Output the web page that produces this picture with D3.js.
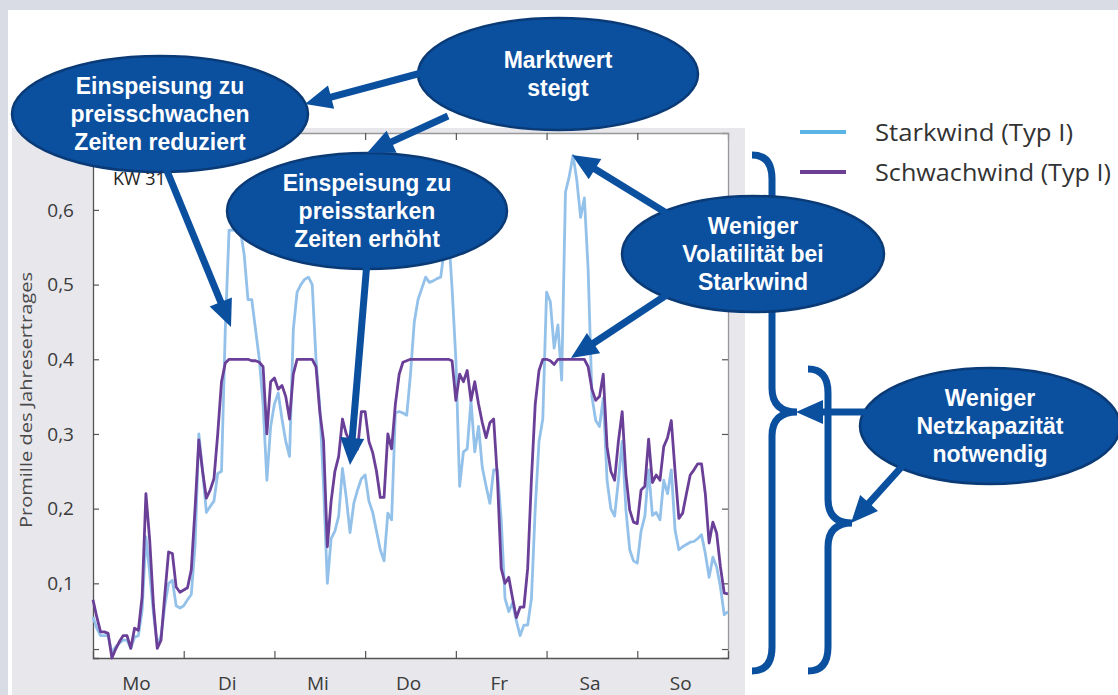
<!DOCTYPE html>
<html>
<head>
<meta charset="utf-8">
<script src="https://cdn.jsdelivr.net/npm/d3@7"></script>
<style>
  html, body { margin: 0; padding: 0; background: #fff; }
  svg { display: block; }
</style>
</head>
<body>
<svg id="chart" width="1118" height="695"></svg>
<script>
'use strict';

// stundenwerte, Mo 0 Uhr bis So 24 Uhr (169 punkte)
var days = ['Mo', 'Di', 'Mi', 'Do', 'Fr', 'Sa', 'So'];
var yTicks = [0.1, 0.2, 0.3, 0.4, 0.5, 0.6];
var seriesNames = ['Starkwind (Typ I)', 'Schwachwind (Typ I)'];
var weekLabel = 'KW 31';
var yTitle = 'Promille des Jahresertrages';

var starkwind = [
  0.055, 0.04, 0.03, 0.03, 0.03, 0.007, 0.015, 0.02, 0.024, 0.024,
  0.013, 0.028, 0.03, 0.064, 0.162, 0.114, 0.06, 0.017, 0.03, 0.07,
  0.10, 0.104, 0.07, 0.067, 0.07, 0.078, 0.085, 0.15, 0.30, 0.25,
  0.195, 0.203, 0.21, 0.247, 0.25, 0.44, 0.573, 0.573, 0.573, 0.573,
  0.54, 0.48, 0.48, 0.44, 0.40, 0.34, 0.238, 0.31, 0.34, 0.355,
  0.32, 0.29, 0.27, 0.44, 0.49, 0.50, 0.507, 0.51, 0.50, 0.40,
  0.336, 0.23, 0.10, 0.16, 0.17, 0.19, 0.254, 0.215, 0.168, 0.207,
  0.225, 0.24, 0.245, 0.21, 0.195, 0.17, 0.145, 0.13, 0.194, 0.185,
  0.328, 0.33, 0.328, 0.325, 0.38, 0.45, 0.48, 0.495, 0.51, 0.503,
  0.505, 0.508, 0.51, 0.55, 0.575, 0.495, 0.40, 0.23, 0.276, 0.28,
  0.345, 0.276, 0.31, 0.255, 0.23, 0.207, 0.252, 0.252, 0.185, 0.08,
  0.062, 0.074, 0.05, 0.03, 0.044, 0.044, 0.08, 0.2, 0.29, 0.32,
  0.49, 0.477, 0.415, 0.446, 0.372, 0.624, 0.645, 0.673, 0.64, 0.59,
  0.616, 0.52, 0.35, 0.318, 0.31, 0.348, 0.238, 0.2, 0.19, 0.238,
  0.29, 0.198, 0.145, 0.13, 0.127, 0.17, 0.19, 0.252, 0.191, 0.195,
  0.185, 0.238, 0.22, 0.252, 0.171, 0.145, 0.149, 0.152, 0.155, 0.156,
  0.16, 0.165, 0.14, 0.108, 0.135, 0.122, 0.095, 0.058, 0.062
];

var schwachwind = [
  0.078, 0.055, 0.035, 0.035, 0.033, 0.0, 0.012, 0.022, 0.03, 0.03,
  0.013, 0.04, 0.037, 0.082, 0.22, 0.158, 0.07, 0.013, 0.024, 0.085,
  0.142, 0.14, 0.095, 0.088, 0.091, 0.094, 0.118, 0.2, 0.292, 0.25,
  0.214, 0.225, 0.24, 0.30, 0.37, 0.395, 0.40, 0.40, 0.40, 0.40,
  0.40, 0.40, 0.398, 0.398, 0.396, 0.39, 0.30, 0.37, 0.375, 0.36,
  0.365, 0.35, 0.32, 0.38, 0.40, 0.40, 0.40, 0.40, 0.40, 0.39,
  0.33, 0.29, 0.149, 0.21, 0.25, 0.27, 0.32, 0.30, 0.29, 0.285,
  0.28, 0.33, 0.33, 0.29, 0.275, 0.25, 0.215, 0.215, 0.30, 0.28,
  0.34, 0.38, 0.396, 0.398, 0.40, 0.40, 0.40, 0.40, 0.40, 0.40,
  0.40, 0.40, 0.40, 0.40, 0.40, 0.398, 0.345, 0.38, 0.37, 0.385,
  0.345, 0.37, 0.34, 0.315, 0.295, 0.315, 0.32, 0.24, 0.12, 0.10,
  0.108, 0.08, 0.054, 0.068, 0.068, 0.12, 0.24, 0.34, 0.385, 0.40,
  0.40, 0.398, 0.393, 0.40, 0.40, 0.40, 0.40, 0.40, 0.40, 0.40,
  0.40, 0.39, 0.36, 0.345, 0.35, 0.38, 0.283, 0.25, 0.238, 0.29,
  0.33, 0.245, 0.198, 0.182, 0.18, 0.225, 0.23, 0.293, 0.235, 0.245,
  0.238, 0.283, 0.295, 0.318, 0.25, 0.187, 0.194, 0.22, 0.245, 0.252,
  0.26, 0.26, 0.22, 0.154, 0.182, 0.167, 0.122, 0.087, 0.086
];

// sprechblasen + pfeile (overlay, pixel)
var callouts = [
  { cx: 160, cy: 114, rx: 148, ry: 58, lines: ['Einspeisung zu', 'preisschwachen', 'Zeiten reduziert'] },
  { cx: 558, cy: 74, rx: 140, ry: 56, lines: ['Marktwert', 'steigt'] },
  { cx: 367, cy: 211, rx: 140, ry: 58, lines: ['Einspeisung zu', 'preisstarken', 'Zeiten erhöht'] },
  { cx: 753, cy: 254, rx: 131, ry: 58, lines: ['Weniger', 'Volatilität bei', 'Starkwind'] },
  { cx: 990, cy: 426, rx: 130, ry: 58, lines: ['Weniger', 'Netzkapazität', 'notwendig'] }
];
var arrows = [
  [[425, 72], [305, 104]],
  [[448, 116], [367, 153]],
  [[165, 166], [231, 327]],
  [[367, 262], [350, 465]],
  [[668, 214], [572, 155]],
  [[668, 294], [571, 358]],
  [[866, 412], [796, 412]],
  [[906, 462], [851, 523]]
];

var W = 1118, H = 695;
var pL = 93, pR = 728, pT = 133, pB = 658;
var blue = '#0b4f9f';

var svg = d3.select('#chart');

// hintergrund
svg.append('rect').attr('width', W).attr('height', H).attr('fill', '#fff');
svg.append('rect').attr('width', W).attr('height', 10).attr('fill', '#d9dce4');
svg.append('rect').attr('width', 8).attr('height', H).attr('fill', '#d9dce4');
svg.append('rect')
    .attr('x', 12).attr('y', 128)
    .attr('width', 733).attr('height', H - 128)
    .attr('fill', '#e7e7ec');
svg.append('rect')
    .attr('x', pL).attr('y', pT)
    .attr('width', pR - pL).attr('height', pB - pT)
    .attr('fill', '#fff');

var x = d3.scaleLinear().domain([0, 168]).range([pL, pR]);
var y = d3.scaleLinear().domain([0, 0.703]).range([pB, pT]);
var dayTicks = d3.range(1, days.length).map(function(i) { return i * 24; });
var fmt = function(v) { return String(v).replace('.', ','); };

var axisFont = '"Open Sans", "DejaVu Sans", sans-serif';

var gLeft = svg.append('g')
    .attr('transform', 'translate(' + pL + ',0)')
    .call(d3.axisLeft(y).tickValues([0.012].concat(yTicks)).tickSize(-6).tickPadding(19)
        .tickFormat(function(v) { return v < 0.05 ? '' : fmt(v); }));
var gRight = svg.append('g')
    .attr('transform', 'translate(' + pR + ',0)')
    .call(d3.axisRight(y).tickValues([0.012].concat(yTicks)).tickSize(-6).tickFormat(''));
var gBottom = svg.append('g')
    .attr('transform', 'translate(0,' + pB + ')')
    .call(d3.axisBottom(x).tickValues(dayTicks).tickSize(-7).tickFormat(''));
var gTop = svg.append('g')
    .attr('transform', 'translate(0,' + pT + ')')
    .call(d3.axisTop(x).tickValues(dayTicks).tickSize(-7).tickFormat(''));

[gLeft, gRight, gBottom, gTop].forEach(function(g) {
    g.select('.domain').attr('stroke', '#555').attr('stroke-width', 1.3);
    g.selectAll('.tick line').attr('stroke', '#555').attr('stroke-width', 1.2);
});
gTop.select('.domain').attr('stroke', '#999');
gRight.select('.domain').attr('stroke', '#999');
gLeft.selectAll('.tick text')
    .attr('font-family', axisFont)
    .attr('font-size', 19)
    .attr('fill', '#3a3a3a');

svg.append('g').selectAll('text')
    .data(days)
    .join('text')
    .attr('x', function(d, i) { return x(i * 24 + 11.5); })
    .attr('y', 690)
    .attr('text-anchor', 'middle')
    .attr('font-family', axisFont)
    .attr('font-size', 19)
    .attr('fill', '#3a3a3a')
    .text(function(d) { return d; });

svg.append('text')
    .attr('transform', 'translate(32,400) rotate(-90)')
    .attr('text-anchor', 'middle')
    .attr('font-family', axisFont)
    .attr('font-size', 17)
    .attr('fill', '#4a4a4a')
    .attr('textLength', 256)
    .attr('lengthAdjust', 'spacingAndGlyphs')
    .text(yTitle);

svg.append('text')
    .attr('x', 113).attr('y', 185)
    .attr('font-family', axisFont)
    .attr('font-size', 18)
    .attr('fill', '#222')
    .text(weekLabel);

// linien
var line = d3.line()
    .x(function(d, i) { return x(i); })
    .y(function(d) { return y(d); });
var lineColors = ['#93c1e9', '#6a3f97'];
var legendColors = ['#5ab5e6', '#6d4096'];

svg.append('path')
    .datum(starkwind)
    .attr('d', line)
    .attr('fill', 'none')
    .attr('stroke', lineColors[0])
    .attr('stroke-width', 2.8)
    .attr('stroke-linejoin', 'round');
svg.append('path')
    .datum(schwachwind)
    .attr('d', line)
    .attr('fill', 'none')
    .attr('stroke', lineColors[1])
    .attr('stroke-width', 2.8)
    .attr('stroke-linejoin', 'round');

// legende
var legend = svg.append('g');
seriesNames.forEach(function(name, i) {
    var ly = 132 + i * 40;
    legend.append('line')
        .attr('x1', 800).attr('x2', 846)
        .attr('y1', ly).attr('y2', ly)
        .attr('stroke', legendColors[i])
        .attr('stroke-width', 4);
    legend.append('text')
        .attr('x', 875).attr('y', ly + 9)
        .attr('font-family', axisFont)
        .attr('font-size', 24)
        .attr('fill', '#333')
        .attr('textLength', i === 0 ? 198 : 236)
        .attr('lengthAdjust', 'spacingAndGlyphs')
        .text(name);
});

// geschweifte klammern
function bracePath(xe, xm, xt, y0, ym, y1) {
    var r = 24;
    return 'M' + xe + ',' + y0 +
        ' Q' + xm + ',' + y0 + ' ' + xm + ',' + (y0 + r) +
        ' L' + xm + ',' + (ym - r) +
        ' Q' + xm + ',' + ym + ' ' + xt + ',' + ym +
        ' Q' + xm + ',' + ym + ' ' + xm + ',' + (ym + r) +
        ' L' + xm + ',' + (y1 - r) +
        ' Q' + xm + ',' + y1 + ' ' + xe + ',' + y1;
}
svg.append('path')
    .attr('d', bracePath(752, 772, 797, 155, 412, 671))
    .attr('fill', 'none').attr('stroke', blue).attr('stroke-width', 7);
svg.append('path')
    .attr('d', bracePath(808, 828, 852, 369, 523, 671))
    .attr('fill', 'none').attr('stroke', blue).attr('stroke-width', 7);

// blasen
var bubbles = svg.append('g');
callouts.forEach(function(c) {
    bubbles.append('ellipse')
        .attr('cx', c.cx).attr('cy', c.cy)
        .attr('rx', c.rx).attr('ry', c.ry)
        .attr('fill', blue)
        .attr('stroke', '#0a3b77')
        .attr('stroke-width', 2.5);
    var n = c.lines.length;
    c.lines.forEach(function(t, k) {
        bubbles.append('text')
            .attr('x', c.cx)
            .attr('y', c.cy + (k - (n - 1) / 2) * 28 + 8)
            .attr('text-anchor', 'middle')
            .attr('font-family', '"Liberation Sans", Arial, sans-serif')
            .attr('font-weight', 'bold')
            .attr('font-size', 23)
            .attr('fill', '#fff')
            .text(t);
    });
});

// pfeile
var headLen = 27, headW = 12;
arrows.forEach(function(a) {
    var x0 = a[0][0], y0 = a[0][1], x1 = a[1][0], y1 = a[1][1];
    var dx = x1 - x0, dy = y1 - y0;
    var len = Math.sqrt(dx * dx + dy * dy);
    var ux = dx / len, uy = dy / len;
    var bx = x1 - ux * headLen, by = y1 - uy * headLen;
    svg.append('line')
        .attr('x1', x0).attr('y1', y0)
        .attr('x2', bx + ux * 2).attr('y2', by + uy * 2)
        .attr('stroke', blue)
        .attr('stroke-width', 7);
    svg.append('path')
        .attr('d', 'M' + x1 + ',' + y1 +
            'L' + (bx - uy * headW) + ',' + (by + ux * headW) +
            'L' + (bx + uy * headW) + ',' + (by - ux * headW) + 'Z')
        .attr('fill', blue);
});
</script>
</body>
</html>
